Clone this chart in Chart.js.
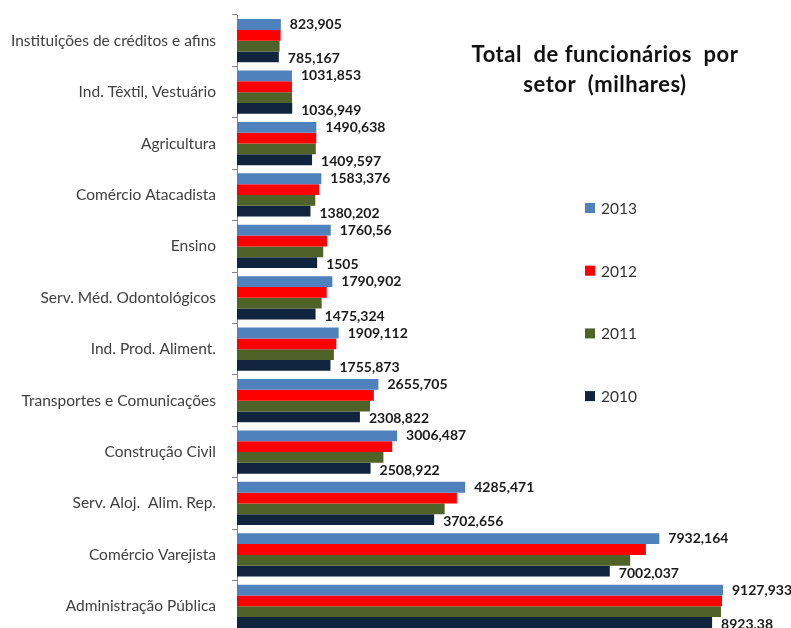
<!DOCTYPE html>
<html>
<head>
<meta charset="utf-8">
<script src="https://cdn.jsdelivr.net/npm/chart.js@4/dist/chart.umd.min.js"></script>
<style>
  html, body { margin: 0; padding: 0; background: #fff; overflow: hidden; }
  canvas { display: block; }
</style>
</head>
<body>
<canvas id="Chart" width="791" height="640"></canvas>
<script>
  const setores = [
    "Instituições de créditos e afins",
    "Ind. Têxtil, Vestuário",
    "Agricultura",
    "Comércio Atacadista",
    "Ensino",
    "Serv. Méd. Odontológicos",
    "Ind. Prod. Aliment.",
    "Transportes e Comunicações",
    "Construção Civil",
    "Serv. Aloj.  Alim. Rep.",
    "Comércio Varejista",
    "Administração Pública"
  ];

  const anos = ["2013", "2012", "2011", "2010"];

  const valores2013 = [823.905, 1031.853, 1490.638, 1583.376, 1760.56, 1790.902, 1909.112, 2655.705, 3006.487, 4285.471, 7932.164, 9127.933];
  const valores2012 = [818, 1032, 1488, 1540, 1690, 1685, 1865, 2570, 2915, 4130, 7680, 9110];
  const valores2011 = [800, 1034, 1480, 1470, 1620, 1590, 1820, 2500, 2750, 3900, 7385, 9090];
  const valores2010 = [785.167, 1036.949, 1409.597, 1380.202, 1505, 1475.324, 1755.873, 2308.822, 2508.922, 3702.656, 7002.037, 8923.38];

  const cores = ["#4F81BD", "#FF0000", "#4F6228", "#10243E"];
  const fonte = "Lato, 'Open Sans', sans-serif";

  // value labels only for first and last year, comma as decimal separator
  const rotulos = {
    id: "rotulos",
    afterDatasetsDraw(chart) {
      const c = chart.ctx;
      c.save();
      c.font = "bold 14px " + fonte;
      c.fillStyle = "#1a1a1a";
      c.textBaseline = "middle";
      [0, 3].forEach(ds => {
        const meta = chart.getDatasetMeta(ds);
        meta.data.forEach((bar, i) => {
          const v = chart.data.datasets[ds].data[i];
          const txt = String(v).replace(".", ",");
          c.fillText(txt, bar.x + 9, bar.y + (ds === 3 ? 2 : 0));
        });
      });
      c.restore();
    }
  };

  // title and legend sit inside the plot on the right
  const tituloLegenda = {
    id: "tituloLegenda",
    afterDraw(chart) {
      const c = chart.ctx;
      c.save();
      c.fillStyle = "#111";
      c.font = "bold 22px " + fonte;
      c.letterSpacing = "0.5px";
      c.textAlign = "center";
      c.textBaseline = "middle";
      c.fillText("Total  de funcionários  por", 605, 55);
      c.fillText("setor  (milhares)", 605, 85);

      c.letterSpacing = "0px";
      c.textAlign = "left";
      c.font = "15.5px " + fonte;
      anos.forEach((ano, i) => {
        const y = 208 + i * 62.7;
        c.fillStyle = cores[i];
        c.fillRect(585, y - 5, 10, 10);
        c.fillStyle = "#333";
        c.fillText(ano, 601, y + 1);
      });
      c.restore();
    }
  };

  const series = [valores2013, valores2012, valores2011, valores2010];

  const ctx = document.getElementById("Chart").getContext("2d");
  new Chart(ctx, {
    type: "bar",
    data: {
      labels: setores,
      datasets: anos.map((ano, i) => ({
        label: ano,
        data: series[i],
        backgroundColor: cores[i],
        borderWidth: 0,
        categoryPercentage: 0.84,
        barPercentage: 1.0
      }))
    },
    options: {
      indexAxis: "y",
      responsive: false,
      animation: false,
      layout: { padding: { top: 15, bottom: 8, right: 21.6, left: 0 } },
      plugins: {
        legend: { display: false },
        title: { display: false },
        tooltip: { enabled: false }
      },
      scales: {
        x: {
          display: false,
          min: 0,
          max: 10000
        },
        y: {
          afterFit(scale) {
            scale.width = 237;
            scale.paddingTop = 0;
            scale.paddingBottom = 0;
          },
          border: { display: true, color: "#868686", width: 1 },
          grid: {
            display: true,
            drawOnChartArea: false,
            drawTicks: true,
            tickLength: 5,
            offset: true,
            color: "#868686"
          },
          ticks: {
            padding: 16,
            color: "#404040",
            font: { family: fonte, size: 15.5 }
          }
        }
      }
    },
    plugins: [rotulos, tituloLegenda]
  });
</script>
</body>
</html>
